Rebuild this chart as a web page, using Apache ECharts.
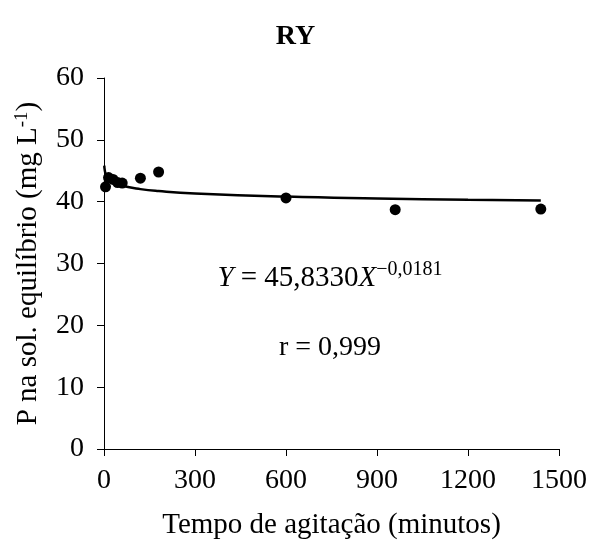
<!DOCTYPE html>
<html><head><meta charset="utf-8">
<script src="https://cdn.jsdelivr.net/npm/echarts@6/dist/echarts.min.js"></script>
<style>html,body{margin:0;padding:0;background:#fff}#c{width:591px;height:545px}</style>
</head><body><div id="c"></div>
<script>
// observed points
var obsTime = [5, 15, 30, 45, 60, 120, 180, 600, 960, 1440];
var obsP = [42.4, 43.9, 43.6, 43.1, 43.0, 43.8, 44.8, 40.6, 38.7, 38.8];
// fitted curve
var fitTime = [1, 2, 5, 10, 20, 30, 60, 120, 180, 300, 600, 900, 1200, 1440];
var fitP = [45.83, 45.26, 44.52, 43.96, 43.41, 43.10, 42.56, 42.03, 41.72, 41.34, 40.82, 40.52, 40.31, 40.18];
var xTicks = [0, 300, 600, 900, 1200, 1500];
var yTicks = [0, 10, 20, 30, 40, 50, 60];

var font = '"Liberation Serif", "Times New Roman", serif';
var chart = echarts.init(document.getElementById('c'));
chart.setOption({
  animation: false,
  title: {text: 'RY', left: 'center', top: 18, textStyle: {fontFamily: font, fontWeight: 'bold', fontSize: 28, color: '#000'}},
  grid: {left: 104, right: 32, top: 78, bottom: 92},
  xAxis: {
    type: 'value', min: xTicks[0], max: xTicks[xTicks.length - 1], interval: 300,
    name: 'Tempo de agitação (minutos)', nameLocation: 'middle', nameGap: 62,
    nameTextStyle: {fontFamily: font, fontSize: 29, color: '#000'},
    axisLine: {lineStyle: {color: '#000', width: 1}},
    axisTick: {show: true, length: 7, lineStyle: {color: '#000'}},
    axisLabel: {fontFamily: font, fontSize: 28, color: '#000', margin: 18, formatter: function(v){return String(v);}},
    splitLine: {show: false}
  },
  yAxis: {
    type: 'value', min: yTicks[0], max: yTicks[yTicks.length - 1], interval: 10,
    name: '{n|P na sol. equilíbrio (mg L}{s|-1}{n|)}', nameLocation: 'middle', nameGap: 60,
    nameTextStyle: {fontFamily: font, fontSize: 29, color: '#000',
      rich: {n: {fontFamily: font, fontSize: 29, color: '#000'}, s: {fontFamily: font, fontSize: 19, color: '#000', verticalAlign: 'top', padding: [0,0,12,0]}}},
    axisLine: {show: true, lineStyle: {color: '#000', width: 1}},
    axisTick: {show: true, length: 7, lineStyle: {color: '#000'}},
    axisLabel: {fontFamily: font, fontSize: 28, color: '#000', margin: 20, formatter: function(v){return String(v);}},
    splitLine: {show: false}
  },
  series: [
    {type: 'line', data: fitTime.map(function(t, i){return [t, fitP[i]];}), smooth: true, showSymbol: false, symbol: 'none',
     lineStyle: {color: '#000', width: 2.5}, z: 2},
    {type: 'scatter', data: obsTime.map(function(t, i){return [t, obsP[i]];}), symbol: 'circle', symbolSize: 11,
     itemStyle: {color: '#000', opacity: 1}, z: 3}
  ],
  graphic: [
    {type: 'text', x: 330, y: 278, style: {
      text: '{i|Y}{n|\u00a0=\u00a045,8330}{i|X}{s|−0,0181}', align: 'center', verticalAlign: 'middle',
      rich: {
        i: {fontFamily: font, fontStyle: 'italic', fontSize: 29, fill: '#000'},
        n: {fontFamily: font, fontSize: 29, fill: '#000'},
        s: {fontFamily: font, fontSize: 20, fill: '#000', verticalAlign: 'top', padding: [0,0,16,0]}
      }}},
    {type: 'text', x: 330, y: 348, style: {text: 'r = 0,999', align: 'center', verticalAlign: 'middle',
      font: '28px "Liberation Serif", serif', fill: '#000'}}
  ]
});
</script></body></html>
